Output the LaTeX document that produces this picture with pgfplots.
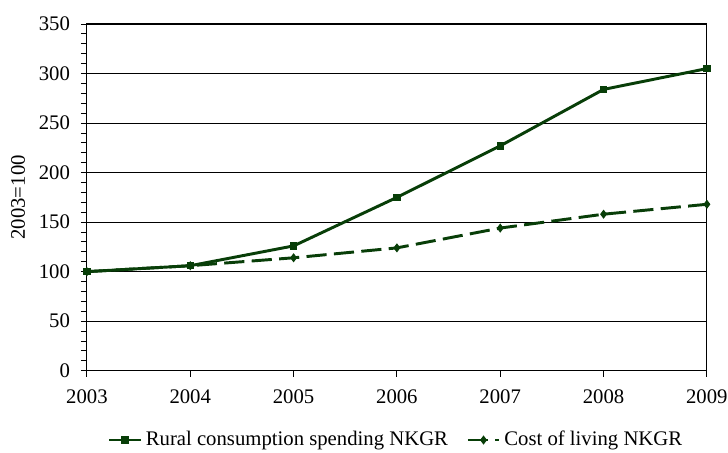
\documentclass[border=0pt]{standalone}
\usepackage{fontspec}
\setmainfont{Liberation Serif}
\usepackage{pgfplots}
\pgfplotsset{compat=1.18}
\definecolor{dkgreen}{RGB}{8,62,8}

\begin{document}
\fontsize{11.3}{13}\selectfont
\begin{tikzpicture}
\path[use as bounding box] (-47.4pt,-44.7pt) rectangle (349.5pt,202.1pt);
\begin{axis}[
    scale only axis,
    width=338pt, height=189pt,
    xmin=2003, xmax=2009, ymin=0, ymax=350,
    xtick={2003,...,2009},
    ytick={0,50,...,350},
    minor y tick num=4,
    xticklabel style={/pgf/number format/1000 sep={}, yshift=-3pt},
    yticklabel style={xshift=-2pt},
    /pgf/number format/assume math mode=true,
    ymajorgrids, major grid style={black, line width=0.5pt},
    tick align=outside, xtick pos=bottom, ytick pos=left,
    major tick length=3.3pt, minor tick length=3.3pt,
    tick style={black, line width=0.5pt},
    axis line style={black, line width=0.6pt},
    ylabel={2003=100},
    ylabel style={at={(axis description cs:-0.111,0.5)}, anchor=center},
    legend style={draw=none, at={(0.5,-0.2)}, anchor=center,
        legend columns=2, fill=none,
        /tikz/every even column/.append style={column sep=8pt}},
    legend cell align=left,
    every axis plot/.append style={dkgreen, line width=1.6pt},
]
\addplot[mark=square*, mark size=1.7pt, mark options={solid, line width=0.5pt}] coordinates {
    (2003,100)(2004,106)(2005,126)(2006,175)(2007,227)(2008,284)(2009,305)
}; \addlegendentry{Rural consumption spending NKGR}

\addplot[mark=diamond*, mark size=2.1pt, dash pattern=on 11pt off 4pt, mark options={solid, line width=0.5pt}] coordinates {
    (2003,100)(2004,106)(2005,114)(2006,124)(2007,144)(2008,158)(2009,168)
}; \addlegendentry{Cost of living NKGR}
\end{axis}
\end{tikzpicture}
\end{document}
